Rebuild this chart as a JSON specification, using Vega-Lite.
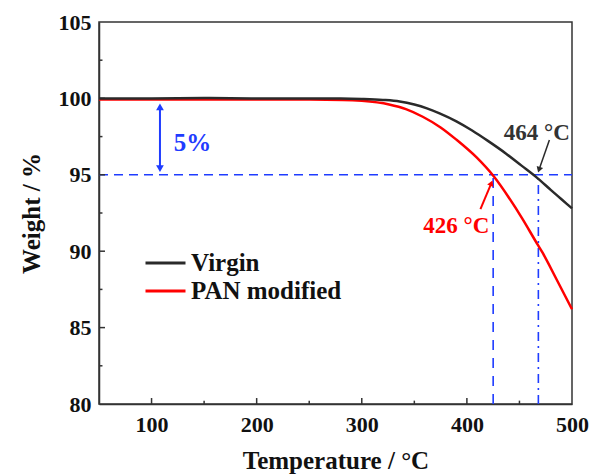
{
  "$schema": "https://vega.github.io/schema/vega-lite/v6.json",
  "width": 473,
  "height": 382,
  "autosize": "none",
  "padding": {"left": 99, "top": 22, "right": 20, "bottom": 71},
  "background": "white",
  "config": {
    "view": {"stroke": "#333333", "strokeWidth": 1.5},
    "font": "Liberation Serif",
    "axis": {
      "domainColor": "#333333", "domainWidth": 1.5,
      "ticks": false,
      "labelFont": "Liberation Serif", "labelFontSize": 22, "labelFontWeight": "bold", "labelColor": "#111111",
      "titleFont": "Liberation Serif", "titleFontSize": 25, "titleFontWeight": "bold", "titleColor": "#111111",
      "grid": false
    }
  },
  "datasets": {
    "curves": [
      {"T": 50, "W": 99.93, "series": "PAN modified"},
      {"T": 100, "W": 99.93, "series": "PAN modified"},
      {"T": 200, "W": 99.92, "series": "PAN modified"},
      {"T": 250, "W": 99.92, "series": "PAN modified"},
      {"T": 282, "W": 99.9, "series": "PAN modified"},
      {"T": 300, "W": 99.84, "series": "PAN modified"},
      {"T": 326, "W": 99.6, "series": "PAN modified"},
      {"T": 342, "W": 99.3, "series": "PAN modified"},
      {"T": 358, "W": 98.8, "series": "PAN modified"},
      {"T": 375, "W": 98.1, "series": "PAN modified"},
      {"T": 390, "W": 97.3, "series": "PAN modified"},
      {"T": 409, "W": 96.15, "series": "PAN modified"},
      {"T": 425.5, "W": 94.9, "series": "PAN modified"},
      {"T": 440, "W": 93.5, "series": "PAN modified"},
      {"T": 453, "W": 92.1, "series": "PAN modified"},
      {"T": 465, "W": 90.7, "series": "PAN modified"},
      {"T": 472, "W": 89.9, "series": "PAN modified"},
      {"T": 485, "W": 88.2, "series": "PAN modified"},
      {"T": 500, "W": 86.2, "series": "PAN modified"},
      {"T": 50, "W": 100.0, "series": "Virgin"},
      {"T": 100, "W": 100.0, "series": "Virgin"},
      {"T": 150, "W": 100.02, "series": "Virgin"},
      {"T": 200, "W": 100.0, "series": "Virgin"},
      {"T": 250, "W": 100.0, "series": "Virgin"},
      {"T": 280, "W": 99.99, "series": "Virgin"},
      {"T": 300, "W": 99.96, "series": "Virgin"},
      {"T": 320, "W": 99.9, "series": "Virgin"},
      {"T": 336, "W": 99.8, "series": "Virgin"},
      {"T": 350, "W": 99.6, "series": "Virgin"},
      {"T": 362, "W": 99.35, "series": "Virgin"},
      {"T": 374, "W": 99.02, "series": "Virgin"},
      {"T": 390, "W": 98.5, "series": "Virgin"},
      {"T": 405, "W": 97.9, "series": "Virgin"},
      {"T": 420, "W": 97.22, "series": "Virgin"},
      {"T": 437, "W": 96.4, "series": "Virgin"},
      {"T": 452, "W": 95.6, "series": "Virgin"},
      {"T": 466, "W": 94.85, "series": "Virgin"},
      {"T": 480, "W": 94.0, "series": "Virgin"},
      {"T": 490, "W": 93.4, "series": "Virgin"},
      {"T": 500, "W": 92.8, "series": "Virgin"}
    ]
  },
  "layer": [
    {
      "data": {"values": [{"x1": 50, "x2": 500, "y": 95}]},
      "mark": {"type": "rule", "color": "#1f3cff", "strokeWidth": 1.6, "strokeDash": [9, 6]},
      "encoding": {
        "x": {"field": "x1", "type": "quantitative", "scale": {"domain": [50, 500], "nice": false, "zero": false},
          "axis": {"title": "Temperature / °C", "values": [100, 200, 300, 400, 500],
            "labelPadding": 10, "titlePadding": 13, "labelFlush": false}},
        "x2": {"field": "x2"},
        "y": {"field": "y", "type": "quantitative", "scale": {"domain": [80, 105], "nice": false, "zero": false},
          "axis": {"title": "Weight / %", "values": [80, 85, 90, 95, 100, 105],
            "labelPadding": 8, "titlePadding": 14}}
      }
    },
    {
      "data": {"values": [
        {"x": 100, "y1": 80, "y2": 80.39}, {"x": 200, "y1": 80, "y2": 80.39}, {"x": 300, "y1": 80, "y2": 80.39}, {"x": 400, "y1": 80, "y2": 80.39},
        {"x": 150, "y1": 80, "y2": 80.22}, {"x": 250, "y1": 80, "y2": 80.22}, {"x": 350, "y1": 80, "y2": 80.22}, {"x": 450, "y1": 80, "y2": 80.22}
      ]},
      "mark": {"type": "rule", "color": "#333333", "strokeWidth": 1.5},
      "encoding": {"x": {"field": "x", "type": "quantitative"}, "y": {"field": "y1", "type": "quantitative"}, "y2": {"field": "y2"}}
    },
    {
      "data": {"values": [
        {"y": 85, "x1": 50, "x2": 55.7}, {"y": 90, "x1": 50, "x2": 55.7}, {"y": 95, "x1": 50, "x2": 55.7}, {"y": 100, "x1": 50, "x2": 55.7},
        {"y": 82.5, "x1": 50, "x2": 53.3}, {"y": 87.5, "x1": 50, "x2": 53.3}, {"y": 92.5, "x1": 50, "x2": 53.3}, {"y": 97.5, "x1": 50, "x2": 53.3}, {"y": 102.5, "x1": 50, "x2": 53.3}
      ]},
      "mark": {"type": "rule", "color": "#333333", "strokeWidth": 1.5},
      "encoding": {"y": {"field": "y", "type": "quantitative"}, "x": {"field": "x1", "type": "quantitative"}, "x2": {"field": "x2"}}
    },
    {
      "data": {"values": [{"x": 425, "y1": 80, "y2": 95}]},
      "mark": {"type": "rule", "color": "#1f3cff", "strokeWidth": 1.6, "strokeDash": [10, 8]},
      "encoding": {"x": {"field": "x", "type": "quantitative"}, "y": {"field": "y1", "type": "quantitative"}, "y2": {"field": "y2"}}
    },
    {
      "data": {"values": [{"x": 468, "y1": 80, "y2": 95}]},
      "mark": {"type": "rule", "color": "#1f3cff", "strokeWidth": 1.6, "strokeDash": [9, 5, 2, 5]},
      "encoding": {"x": {"field": "x", "type": "quantitative"}, "y": {"field": "y1", "type": "quantitative"}, "y2": {"field": "y2"}}
    },
    {
      "data": {"name": "curves"},
      "mark": {"type": "line", "strokeWidth": 2.5, "interpolate": "monotone"},
      "encoding": {
        "x": {"field": "T", "type": "quantitative"},
        "y": {"field": "W", "type": "quantitative"},
        "color": {"field": "series", "type": "nominal",
          "scale": {"domain": ["Virgin", "PAN modified"], "range": ["#2a2a2a", "#ff0000"]},
          "legend": {"orient": "none", "legendX": 45, "legendY": 229, "title": null,
            "symbolType": "stroke", "symbolSize": 1600, "symbolStrokeWidth": 3,
            "labelFont": "Liberation Serif", "labelFontSize": 25, "labelFontWeight": "bold", "labelColor": "#111111",
            "labelOffset": 4, "clipHeight": 24, "rowPadding": 3}}
      }
    },
    {
      "data": {"values": [{"x": 108, "y1": 99.5, "y2": 95.4}]},
      "mark": {"type": "rule", "color": "#1f3cff", "strokeWidth": 2},
      "encoding": {"x": {"field": "x", "type": "quantitative"}, "y": {"field": "y1", "type": "quantitative"}, "y2": {"field": "y2"}}
    },
    {
      "data": {"values": [{"x": 108, "y": 99.45, "a": 0}, {"x": 108, "y": 95.4, "a": 180}]},
      "mark": {"type": "point", "shape": "triangle-up", "filled": true, "color": "#1f3cff", "size": 60, "opacity": 1},
      "encoding": {"x": {"field": "x", "type": "quantitative"}, "y": {"field": "y", "type": "quantitative"},
        "angle": {"field": "a", "type": "quantitative", "scale": {"domain": [0, 360], "range": [0, 360]}}}
    },
    {
      "data": {"values": [{"x": 478.5, "y": 97.28, "x2": 468.6, "y2": 95.33}]},
      "mark": {"type": "rule", "color": "#2a2a2a", "strokeWidth": 1.5},
      "encoding": {"x": {"field": "x", "type": "quantitative"}, "y": {"field": "y", "type": "quantitative"}, "x2": {"field": "x2"}, "y2": {"field": "y2"}}
    },
    {
      "data": {"values": [{"x": 412.9, "y": 92.76, "x2": 423.3, "y2": 94.46}]},
      "mark": {"type": "rule", "color": "#ff0000", "strokeWidth": 2},
      "encoding": {"x": {"field": "x", "type": "quantitative"}, "y": {"field": "y", "type": "quantitative"}, "x2": {"field": "x2"}, "y2": {"field": "y2"}}
    },
    {
      "data": {"values": [{"x": 468.6, "y": 95.33, "a": 198}]},
      "mark": {"type": "point", "shape": "triangle-up", "filled": true, "color": "#2a2a2a", "size": 45, "opacity": 1},
      "encoding": {"x": {"field": "x", "type": "quantitative"}, "y": {"field": "y", "type": "quantitative"},
        "angle": {"field": "a", "type": "quantitative", "scale": {"domain": [0, 360], "range": [0, 360]}}}
    },
    {
      "data": {"values": [{"x": 423.3, "y": 94.46, "a": 23}]},
      "mark": {"type": "point", "shape": "triangle-up", "filled": true, "color": "#ff0000", "size": 45, "opacity": 1},
      "encoding": {"x": {"field": "x", "type": "quantitative"}, "y": {"field": "y", "type": "quantitative"},
        "angle": {"field": "a", "type": "quantitative", "scale": {"domain": [0, 360], "range": [0, 360]}}}
    },
    {
      "data": {"values": [{"x": 121, "y": 97.1, "t": "5%"}]},
      "mark": {"type": "text", "align": "left", "baseline": "middle", "font": "Liberation Serif", "fontSize": 25, "fontWeight": "bold", "color": "#1f3cff"},
      "encoding": {"x": {"field": "x", "type": "quantitative"}, "y": {"field": "y", "type": "quantitative"}, "text": {"field": "t"}}
    },
    {
      "data": {"values": [{"x": 466.5, "y": 97.75, "t": "464 °C"}]},
      "mark": {"type": "text", "align": "center", "baseline": "middle", "font": "Liberation Serif", "fontSize": 23, "fontWeight": "bold", "color": "#333333"},
      "encoding": {"x": {"field": "x", "type": "quantitative"}, "y": {"field": "y", "type": "quantitative"}, "text": {"field": "t"}}
    },
    {
      "data": {"values": [{"x": 390, "y": 91.67, "t": "426 °C"}]},
      "mark": {"type": "text", "align": "center", "baseline": "middle", "font": "Liberation Serif", "fontSize": 23, "fontWeight": "bold", "color": "#ff0000"},
      "encoding": {"x": {"field": "x", "type": "quantitative"}, "y": {"field": "y", "type": "quantitative"}, "text": {"field": "t"}}
    }
  ]
}
